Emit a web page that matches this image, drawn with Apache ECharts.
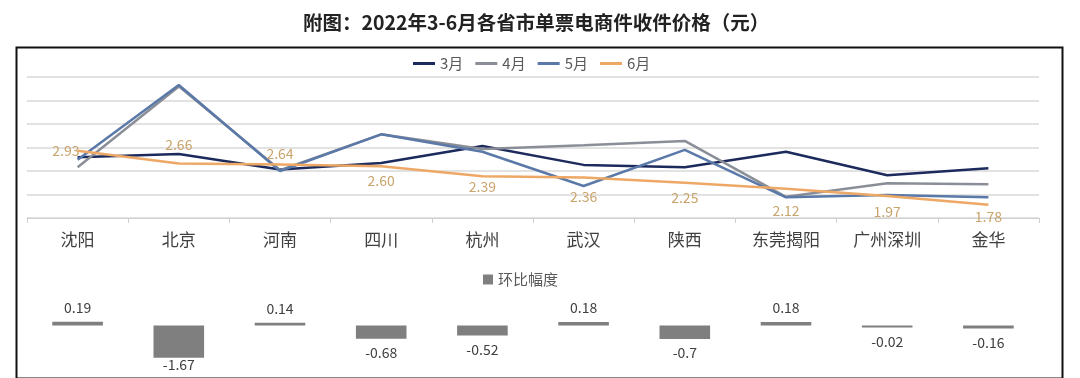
<!DOCTYPE html>
<html>
<head>
<meta charset="utf-8">
<script src="https://cdn.jsdelivr.net/npm/echarts@6/dist/echarts.min.js"></script>
<style>
html,body{margin:0;padding:0;background:#fff;}
#main{width:1080px;height:378px;}
</style>
</head>
<body>
<div id="main"></div>
<script>
var title = '附图：2022年3-6月各省市单票电商件收件价格（元）';
var categories = ['沈阳','北京','河南','四川','杭州','武汉','陕西','东莞揭阳','广州深圳','金华'];
var seriesNames = ['3月','4月','5月','6月'];
var mar = [2.79, 2.86, 2.53, 2.67, 3.03, 2.63, 2.58, 2.91, 2.41, 2.56];
var apr = [2.58, 4.30, 2.52, 3.28, 2.97, 3.05, 3.14, 1.95, 2.24, 2.22];
var may = [2.74, 4.33, 2.50, 3.28, 2.91, 2.18, 2.95, 1.94, 1.99, 1.94];
var jun = [2.93, 2.66, 2.64, 2.60, 2.39, 2.36, 2.25, 2.12, 1.97, 1.78];
var changeName = '环比幅度';
var change = [0.19, -1.67, 0.14, -0.68, -0.52, 0.18, -0.7, 0.18, -0.02, -0.16];

// label placement style for the June series (position + distance)
var junLabelPos = ['left','top','top','bottom','bottom','bottom','bottom','bottom','bottom','bottom'];
var junLabelDist = [-2, 12, 4, 7, 3, 12, 8, 15, 9, 5];
// label distance style for the change bars
var barLabelDist = [7, 0, 7, 7, 7, 7, 7, 7, 7, 7];

var colors = ['#1c2a5c', '#8a8e96', '#5a78a8', '#eda865'];
var font = '"Noto Sans CJK SC", "Noto Sans", sans-serif';

var lineData = [mar, apr, may, jun];
var series = lineData.map(function (arr, i) {
  var s = {
    name: seriesNames[i],
    type: 'line',
    xAxisIndex: 0, yAxisIndex: 0,
    symbol: 'none',
    lineStyle: { width: 2.5, color: colors[i] },
    itemStyle: { color: colors[i] },
    z: 2 + i,
    data: arr
  };
  if (i === 3) {
    s.symbol = 'circle';
    s.symbolSize = 0.1;
    s.showSymbol = true;
    s.data = arr.map(function (v, k) {
      return { value: v, label: { position: junLabelPos[k], distance: junLabelDist[k] } };
    });
    s.label = {
      show: true, color: '#c9a46c', fontSize: 14, fontFamily: font,
      formatter: function (p) { return Number(p.value).toFixed(2); }
    };
  }
  return s;
});

series.push({
  name: changeName,
  type: 'bar',
  xAxisIndex: 1, yAxisIndex: 1,
  barWidth: '50%',
  barMinHeight: 2,
  itemStyle: { color: '#7f7f7f' },
  label: {
    show: true, color: '#404040', fontSize: 14, fontFamily: font,
    formatter: function (p) { return String(p.value); }
  },
  data: change.map(function (v, k) {
    return { value: v, label: { position: v >= 0 ? 'top' : 'bottom', distance: barLabelDist[k] } };
  })
});

var chart = echarts.init(document.getElementById('main'), null, { renderer: 'canvas' });
chart.setOption({
  animation: false,
  backgroundColor: '#fff',
  title: {
    text: title, left: 298, top: 8,
    textStyle: { fontSize: 19.5, fontWeight: 'bold', color: '#222', fontFamily: font }
  },
  graphic: [{
    type: 'rect', left: 14, top: 45, silent: true,
    shape: { width: 1046, height: 331 },
    style: { fill: 'none', stroke: '#111', lineWidth: 2 }
  }],
  legend: [{
    data: seriesNames, left: 408, top: 51,
    icon: 'rect', itemWidth: 22, itemHeight: 3, itemGap: 12,
    textStyle: { fontSize: 15, color: '#595959', fontFamily: font }
  }, {
    data: [changeName], left: 478, top: 267,
    icon: 'rect', itemWidth: 10, itemHeight: 10, itemGap: 6,
    textStyle: { fontSize: 15, color: '#595959', fontFamily: font }
  }],
  grid: [
    { left: 27, right: 41, top: 77, bottom: 160 },
    { left: 27, right: 41, top: 306, bottom: 4 }
  ],
  xAxis: [{
    type: 'category', gridIndex: 0, data: categories, boundaryGap: true,
    axisLine: { lineStyle: { color: '#d0d0d0', width: 1 } },
    axisTick: { show: true, length: 5, lineStyle: { color: '#d0d0d0' } },
    axisLabel: { fontSize: 17, color: '#404040', margin: 13, fontFamily: font, interval: 0 }
  }, {
    type: 'category', gridIndex: 1, data: categories,
    show: false
  }],
  yAxis: [{
    type: 'value', gridIndex: 0, min: 1.5, max: 4.5, interval: 0.5,
    axisLine: { show: false }, axisTick: { show: false }, axisLabel: { show: false },
    splitLine: { lineStyle: { color: '#d9d9d9', width: 1.5 } }
  }, {
    type: 'value', gridIndex: 1, min: -2.5, max: 1.0,
    show: false, splitLine: { show: false }
  }],
  series: series
});
</script>
</body>
</html>
